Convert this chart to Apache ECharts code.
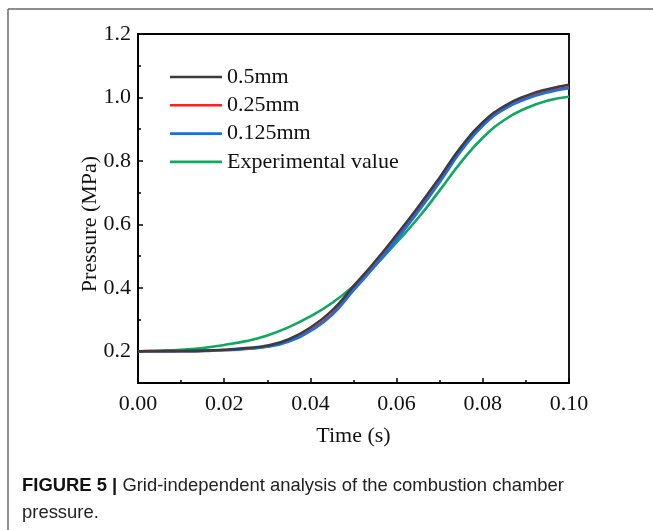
<!DOCTYPE html>
<html>
<head>
<meta charset="utf-8">
<script src="https://cdn.jsdelivr.net/npm/echarts@6/dist/echarts.min.js"></script>
<style>html,body{margin:0;padding:0;background:#fff}#c{width:653px;height:530px}</style>
</head>
<body>
<div id="c"></div>
<script>
const time = [0,0.005,0.01,0.015,0.02,0.025,0.03,0.035,0.04,0.045,0.05,0.055,0.06,0.065,0.07,0.075,0.08,0.085,0.09,0.095,0.1];
const p05 = [0.200,0.200,0.201,0.202,0.205,0.210,0.218,0.238,0.275,0.328,0.405,0.483,0.567,0.655,0.748,0.845,0.922,0.973,1.005,1.026,1.040];
const p025 = [0.200,0.200,0.200,0.201,0.204,0.208,0.215,0.233,0.267,0.318,0.396,0.473,0.556,0.644,0.737,0.836,0.914,0.966,0.998,1.019,1.032];
const p0125 = [0.200,0.200,0.200,0.201,0.203,0.207,0.214,0.231,0.264,0.314,0.392,0.469,0.552,0.640,0.733,0.832,0.911,0.963,0.995,1.016,1.029];
const pExp = [0.200,0.202,0.205,0.210,0.220,0.232,0.250,0.276,0.310,0.352,0.406,0.470,0.543,0.620,0.707,0.797,0.873,0.929,0.966,0.990,1.002];
const seriesNames = ['0.5mm','0.25mm','0.125mm','Experimental value'];
const yTicks = [0.2,0.4,0.6,0.8,1.0,1.2];
const yMinorTicks = [0.1,0.2,0.3,0.4,0.5,0.6,0.7,0.8,0.9,1.0,1.1,1.2];
const xName = 'Time (s)';
const yName = 'Pressure (MPa)';
const captionBold = 'FIGURE 5 |';
const captionText = ' Grid-independent analysis of the combustion chamber\npressure.';

const pair = arr => time.map((t,i)=>[t,arr[i]]);
const colors = ['#3c3c3c','#ff2020','#1a6fe8','#10a860'];
const serif = 'Liberation Serif';
const sans = 'Liberation Sans';
const chart = echarts.init(document.getElementById('c'));
chart.setOption({
  animation:false,
  backgroundColor:'#fff',
  grid:{left:138,top:34,right:84,bottom:147,show:true,borderColor:'#000',borderWidth:1.8,containLabel:false},
  legend:{
    orient:'vertical', left:165, top:61,
    icon:'rect', itemWidth:52, itemHeight:2.6, itemGap:6.3,
    data:seriesNames.slice(),
    textStyle:{fontFamily:serif,fontSize:22,color:'#111',lineHeight:22}
  },
  xAxis:{
    type:'value', min:0, max:0.1, interval:0.02,
    name:xName, nameLocation:'middle', nameGap:42,
    nameTextStyle:{fontFamily:serif,fontSize:22,color:'#111'},
    axisLine:{lineStyle:{color:'#000',width:1.8}},
    axisTick:{inside:true,length:5,lineStyle:{color:'#000',width:1.5}},
    minorTick:{show:true,splitNumber:2,length:3,lineStyle:{color:'#000',width:1.5}},
    splitLine:{show:false},
    axisLabel:{fontFamily:serif,fontSize:22,color:'#111',margin:10,formatter:v=>v.toFixed(2)}
  },
  yAxis:[{
    type:'value', min:0.1, max:1.2,
    axisLine:{lineStyle:{color:'#000',width:1.8}},
    axisTick:{inside:true,length:5,customValues:yTicks,lineStyle:{color:'#000',width:1.5}},
    splitLine:{show:false},
    axisLabel:{fontFamily:serif,fontSize:22,color:'#111',margin:7,customValues:yTicks,formatter:v=>v.toFixed(1)}
  },{
    type:'value', min:0.1, max:1.2, position:'left',
    axisLine:{show:false},
    axisTick:{show:true,inside:true,length:3,customValues:yMinorTicks,lineStyle:{color:'#000',width:1.5}},
    axisLabel:{show:false}, splitLine:{show:false}
  }],
  series:[
    {name:seriesNames[3],type:'line',data:pair(pExp),smooth:true,symbol:'none',color:colors[3],lineStyle:{width:2.6},z:2},
    {name:seriesNames[1],type:'line',data:pair(p025),smooth:true,symbol:'none',color:colors[1],lineStyle:{width:2.4},z:3},
    {name:seriesNames[2],type:'line',data:pair(p0125),smooth:true,symbol:'none',color:colors[2],lineStyle:{width:2.6},z:4},
    {name:seriesNames[0],type:'line',data:pair(p05),smooth:true,symbol:'none',color:colors[0],lineStyle:{width:2.6},z:5}
  ],
  graphic:[
    {type:'line',shape:{x1:8,y1:9,x2:653,y2:9},style:{stroke:'#6a6a6a',lineWidth:1.5}},
    {type:'line',shape:{x1:8,y1:9,x2:8,y2:530},style:{stroke:'#6a6a6a',lineWidth:1.5}},
    {type:'text',x:90,y:224,rotation:Math.PI/2,style:{
      text:yName,font:'22px "Liberation Serif"',fill:'#111',align:'center',verticalAlign:'middle'}},
    {type:'text',x:22,y:472,scaleX:0.97,style:{
      text:'{b|'+captionBold+'}'+captionText,
      font:'19px "Liberation Sans"',
      fill:'#222',lineHeight:27,
      rich:{b:{fontWeight:'bold',fontSize:19,fontFamily:sans,fill:'#111'}}
    }}
  ]
});
</script>
</body>
</html>
